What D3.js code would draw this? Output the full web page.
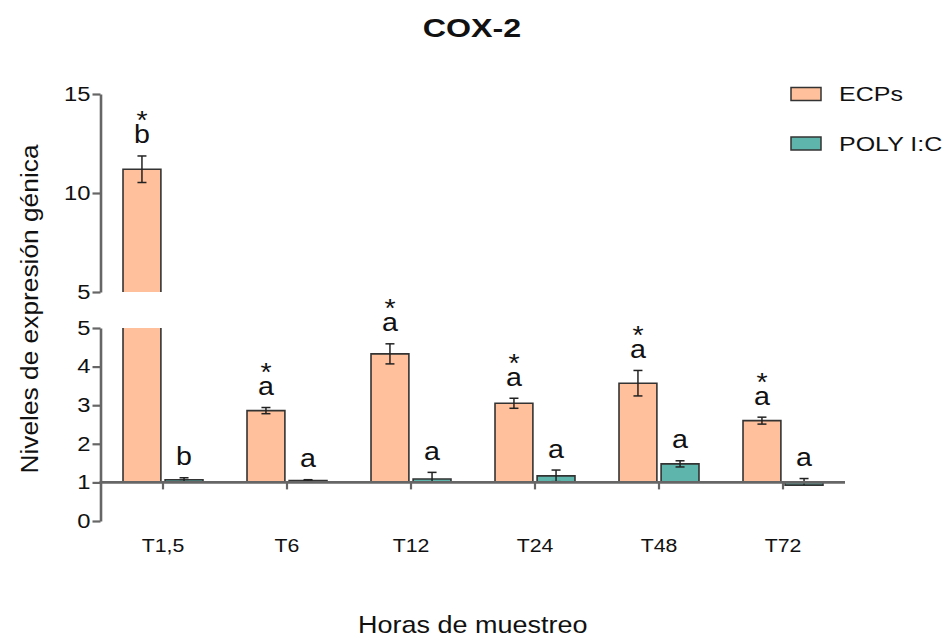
<!DOCTYPE html>
<html>
<head>
<meta charset="utf-8">
<script src="https://cdn.jsdelivr.net/npm/d3@7/dist/d3.min.js"></script>
<style>
  html, body { margin: 0; padding: 0; background: #fff; }
  svg { display: block; }
  text { font-family: "Liberation Sans", Arial, sans-serif; fill: #111; }
</style>
</head>
<body>
<svg id="chart" width="949" height="641"></svg>
<script>
// Sampling times and the two treatments
const groups = ["T1,5", "T6", "T12", "T24", "T48", "T72"];
const seriesNames = ["ECPs", "POLY I:C"];

// Relative COX-2 expression (mean and error)
const ecpsValues = [11.2, 2.86, 4.33, 3.05, 3.57, 2.60];
const ecpsErrors = [0.67, 0.08, 0.26, 0.13, 0.33, 0.09];
const polyValues = [1.07, 1.05, 1.09, 1.17, 1.48, 0.93];
const polyErrors = [0.05, 0.02, 0.17, 0.15, 0.08, 0.17];

// Statistical annotations
const ecpsLetters = ["b", "a", "a", "a", "a", "a"];
const polyLetters = ["b", "a", "a", "a", "a", "a"];
const ecpsStars = [true, true, true, true, true, true];
const polyStars = [false, false, false, false, false, false];

// Axis ticks for the two segments of the broken y axis
const lowerTicks = [0, 1, 2, 3, 4, 5];
const upperTicks = [5, 10, 15];

const BASELINE = 1;   // bars grow from 1 (fold-change reference)
const BREAK = 5;      // the y axis is broken at 5

const colors = { "ECPs": "#FFC09B", "POLY I:C": "#5DB5AB" };
const axisColor = "#666";

const svg = d3.select("#chart");
svg.append("rect").attr("width", 949).attr("height", 641).attr("fill", "#fff");

// Scales: lower segment 0–5, upper segment 5–15
const yLow = d3.scaleLinear().domain([0, 5]).range([521, 328]);
const yUp = d3.scaleLinear().domain([5, 15]).range([292, 94]);
const yPos = v => (v <= BREAK ? yLow(v) : yUp(v));

const x = d3.scaleBand().domain(groups).range([101, 845])
  .paddingInner(0.355).paddingOuter(0.1775);
const xSub = d3.scaleBand().domain(seriesNames).range([0, x.bandwidth()]).paddingInner(0.1);

// Flatten data into bar records
const bars = [];
groups.forEach((g, i) => {
  bars.push({ g, s: "ECPs", v: ecpsValues[i], e: ecpsErrors[i], letter: ecpsLetters[i], star: ecpsStars[i] });
  bars.push({ g, s: "POLY I:C", v: polyValues[i], e: polyErrors[i], letter: polyLetters[i], star: polyStars[i] });
});

// Split a bar into drawable pieces around the axis break
function pieces(v) {
  if (v > BREAK) {
    return [
      { y0: yLow(BASELINE), y1: yLow(BREAK), top: false },
      { y0: yUp(BREAK), y1: yUp(v), top: true }
    ];
  }
  return [{ y0: yLow(BASELINE), y1: yLow(v), top: true }];
}

const barLayer = svg.append("g");
bars.forEach(b => {
  const x0 = x(b.g) + xSub(b.s);
  const x1 = x0 + xSub.bandwidth();
  pieces(b.v).forEach(p => {
    const yt = Math.min(p.y0, p.y1), yb = Math.max(p.y0, p.y1);
    barLayer.append("rect")
      .attr("x", x0).attr("y", yt)
      .attr("width", x1 - x0).attr("height", yb - yt)
      .attr("fill", colors[b.s]);
    const d = p.top
      ? `M${x0},${p.y0}V${p.y1}H${x1}V${p.y0}`
      : `M${x0},${p.y0}V${p.y1}M${x1},${p.y0}V${p.y1}`;
    barLayer.append("path").attr("d", d)
      .attr("fill", "none").attr("stroke", "#333").attr("stroke-width", 1.6);
  });
});

// Error bars (the lower whisker stays within the bar's span)
const errLayer = svg.append("g").attr("stroke", "#222").attr("stroke-width", 1.5).attr("fill", "none");
const capHalf = 4.5;
bars.forEach(b => {
  const cx = x(b.g) + xSub(b.s) + xSub.bandwidth() / 2;
  const hi = b.v + b.e;
  const lo = Math.max(b.v - b.e, Math.min(b.v, BASELINE));
  errLayer.append("line").attr("x1", cx).attr("x2", cx)
    .attr("y1", yPos(hi)).attr("y2", yPos(lo));
  errLayer.append("line").attr("x1", cx - capHalf).attr("x2", cx + capHalf)
    .attr("y1", yPos(hi)).attr("y2", yPos(hi));
  if (lo === b.v - b.e) {
    errLayer.append("line").attr("x1", cx - capHalf).attr("x2", cx + capHalf)
      .attr("y1", yPos(lo)).attr("y2", yPos(lo));
  }
});

// Significance letters, with an asterisk stacked above where marked
const annLayer = svg.append("g");
bars.forEach(b => {
  const cx = x(b.g) + xSub(b.s) + xSub.bandwidth() / 2;
  const yl = yPos(b.v + b.e) - 12.5;
  const t = annLayer.append("text")
    .attr("transform", `translate(${cx},${yl}) scale(1.1,1)`)
    .attr("text-anchor", "middle").style("font-size", "26px");
  if (b.star) {
    t.append("tspan").attr("x", 0).attr("y", -14).text("*");
  }
  t.append("tspan").attr("x", 0).attr("y", 0).text(b.letter);
});

// Axes styling helper
function styleAxis(g) {
  g.select(".domain").attr("stroke", axisColor).attr("stroke-width", 2.6);
  g.selectAll(".tick line").attr("stroke", axisColor).attr("stroke-width", 2.2);
}

// Lower y axis segment
const gLow = svg.append("g").attr("transform", "translate(100.5,0)")
  .call(d3.axisLeft(yLow).tickValues(lowerTicks).tickSize(8).tickSizeOuter(0).tickFormat(d3.format("d")));
// Upper y axis segment
const gUp = svg.append("g").attr("transform", "translate(100.5,0)")
  .call(d3.axisLeft(yUp).tickValues(upperTicks).tickSize(8).tickSizeOuter(0).tickFormat(d3.format("d")));
[gLow, gUp].forEach(g => {
  styleAxis(g);
  g.selectAll(".tick text")
    .attr("x", 0)
    .attr("transform", "translate(-10,0) scale(1.22,1)")
    .attr("fill", "#111")
    .style("font-size", "19.5px").style("font-family", "Liberation Sans, Arial, sans-serif");
});

// X axis drawn along the baseline value
const gx = svg.append("g").attr("transform", `translate(0,${yLow(BASELINE)})`)
  .call(d3.axisBottom(x).tickSize(7).tickSizeOuter(0).tickPadding(49));
styleAxis(gx);
gx.select(".domain").attr("d", `M99.5,0H845`);
gx.selectAll(".tick text")
  .attr("transform", "scale(1.12,1)")
  .attr("fill", "#111")
  .style("font-size", "19px").style("font-family", "Liberation Sans, Arial, sans-serif");

// Title
svg.append("text")
  .attr("transform", "translate(472,36.7) scale(1.24,1)")
  .attr("text-anchor", "middle")
  .style("font-size", "26px").style("font-weight", "bold")
  .text("COX-2");

// Axis titles
svg.append("text")
  .attr("transform", "translate(472.7,632.7) scale(1.125,1)")
  .attr("text-anchor", "middle").style("font-size", "24px")
  .text("Horas de muestreo");

svg.append("text")
  .attr("transform", "translate(37.5,309) rotate(-90) scale(1.12,1)")
  .attr("text-anchor", "middle").style("font-size", "23.5px")
  .text("Niveles de expresión génica");

// Legend
const legend = svg.append("g");
seriesNames.forEach((s, i) => {
  const yTop = 87.5 + i * 49.5;
  legend.append("rect")
    .attr("x", 791).attr("y", yTop).attr("width", 30).attr("height", 13)
    .attr("fill", colors[s]).attr("stroke", "#333").attr("stroke-width", 1.5);
  legend.append("text")
    .attr("transform", `translate(839,${yTop + 13.5}) scale(1.22,1)`)
    .style("font-size", "20.5px")
    .text(s);
});
</script>
</body>
</html>
